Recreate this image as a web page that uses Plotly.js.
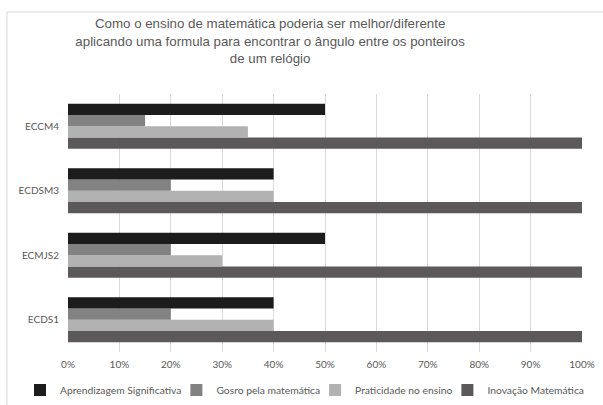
<!DOCTYPE html>
<html><head><meta charset="utf-8">
<script src="https://cdn.plot.ly/plotly-3.0.1.min.js"></script>
<style>html,body{margin:0;padding:0;background:#fff}#chart{width:603px;height:405px}</style>
</head><body><div id="chart"></div>
<script>
const categories = ["ECDS1", "ECMJS2", "ECDSM3", "ECCM4"];
const aprendizagem = [0.40, 0.50, 0.40, 0.50];
const gosto = [0.20, 0.20, 0.20, 0.15];
const praticidade = [0.40, 0.30, 0.40, 0.35];
const inovacao = [1.00, 1.00, 1.00, 1.00];
const seriesNames = ["Aprendizagem Significativa", "Gosro pela matemática", "Praticidade no ensino", "Inovação Matemática"];
const tickVals = [0,0.1,0.2,0.3,0.4,0.5,0.6,0.7,0.8,0.9,1.0];
const tickText = ["0%","10%","20%","30%","40%","50%","60%","70%","80%","90%","100%"];

function tr(name, vals, color){
  return {type:'bar', orientation:'h', name:name, y:categories, x:vals,
    marker:{color:color}, hoverinfo:'x+y'};
}
const data = [
  tr(seriesNames[3], inovacao, '#5b5959'),
  tr(seriesNames[2], praticidade, '#b2b2b2'),
  tr(seriesNames[1], gosto, '#828282'),
  tr(seriesNames[0], aprendizagem, '#1c1c1c')
];
const layout = {
  width:603, height:405,
  margin:{l:68, r:21, t:94, b:53, autoexpand:false},
  paper_bgcolor:'#fff', plot_bgcolor:'#fff',
  barmode:'group', bargap:0.3, bargroupgap:0,
  font:{family:'Lato, "Open Sans", sans-serif', color:'#595959', size:10},
  title:{text:'Como o ensino de matemática poderia ser melhor/diferente<br>aplicando uma formula para encontrar o ângulo entre os ponteiros<br>de um relógio',
    font:{family:'"Liberation Sans", Arial, sans-serif', size:13.3, color:'#595959'},
    xref:'container', x:0.448, xanchor:'center', yref:'container', y:0.93, yanchor:'top'},
  xaxis:{range:[0,1.0], tickvals:tickVals, ticktext:tickText, showgrid:true, gridcolor:'#d9d9d9',
    zeroline:false, showline:false, ticks:'', color:'#595959', tickfont:{size:10, color:'#595959'}, fixedrange:true,
    ticklabelstandoff:5},
  yaxis:{showgrid:false, zeroline:false, showline:false, ticks:'', ticklen:0, color:'#595959',
    tickfont:{size:10, color:'#595959'}, fixedrange:true, ticklabelstandoff:8},
  showlegend:true,
  legend:{orientation:'h', traceorder:'reversed', xref:'paper', x:(30-68)/514, xanchor:'left',
    yref:'paper', y:-0.147, yanchor:'middle', indentation:-10,
    font:{size:10.3, color:'#595959'}, tracegroupgap:0},
  shapes:[{type:'rect', xref:'paper', yref:'paper', x0:-0.1187, x1:1.06, y0:-0.3, y1:1.318,
    line:{color:'#d9d9d9', width:1}, fillcolor:'rgba(0,0,0,0)', layer:'below'}]
};
Plotly.newPlot('chart', data, layout, {displayModeBar:false, staticPlot:true});
</script></body></html>
